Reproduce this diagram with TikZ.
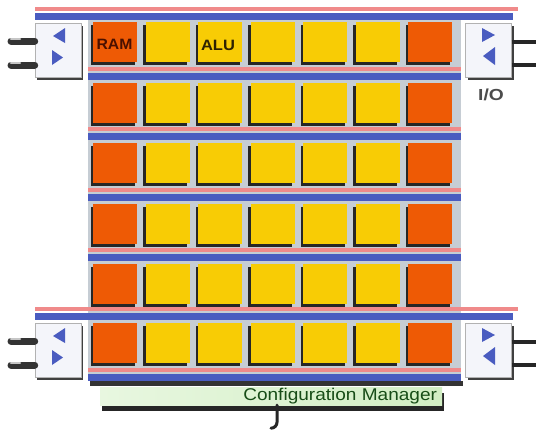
\documentclass[tikz,border=0pt]{standalone}
\usepackage{fontspec}
\setmainfont{Liberation Sans}
\usetikzlibrary{shadows}

\definecolor{busblue}{HTML}{4A5CC0}
\definecolor{buspink}{HTML}{F08A8A}
\definecolor{cellorange}{HTML}{EE5A05}
\definecolor{cellyellow}{HTML}{F8CC05}
\definecolor{gridgray}{HTML}{C6CDD4}
\definecolor{iofill}{HTML}{F4F5FA}
\definecolor{cmleft}{HTML}{E8F7E0}
\definecolor{cmright}{HTML}{D2EEC4}
\definecolor{cmtext}{HTML}{174D17}
\definecolor{ramtext}{HTML}{4A1000}
\definecolor{alutext}{HTML}{2E2200}

\begin{document}
\begin{tikzpicture}[x=1pt,y=-1pt,
  cell/.style={minimum width=44pt, minimum height=40pt, inner sep=0pt,
    drop shadow={shadow xshift=-2.5pt, shadow yshift=-3pt, fill=black!85, opacity=1}},
  iobox/.style={minimum width=46pt, minimum height=54pt, inner sep=0pt,
    fill=iofill, draw=gray!60, line width=0.6pt,
    drop shadow={shadow xshift=2pt, shadow yshift=-3pt, fill=black!75, opacity=1}},
  tri/.style={fill=busblue},
  plugbody/.style={line width=7pt, black!80, line cap=round},
  plughi/.style={line width=2.5pt, gray!45, line cap=round},
  plugthin/.style={line width=3.5pt, black!85},
  cable/.style={line width=3pt, black!85, line cap=round},
  celltext/.style={font=\fontsize{15}{15}\selectfont\bfseries, inner sep=0pt},
  iolabel/.style={font=\fontsize{16}{16}\selectfont\bfseries, text=black!70, inner sep=0pt},
  cmbox/.style={minimum width=342pt, minimum height=18pt, inner sep=0pt,
    left color=cmleft, right color=cmright,
    drop shadow={shadow xshift=2pt, shadow yshift=-6pt, fill=black!85, opacity=1}},
  cmlabel/.style={font=\fontsize{17}{17}\selectfont, text=cmtext, inner sep=0pt}
]
\useasboundingbox (0,0) rectangle (536,437);
\fill[white] (0,0) rectangle (536,437);

% backdrop of the cell array
\fill[gridgray] (88,20) rectangle (461,374);

% buses: pink signal line above a blue bar
\foreach \y/\xa/\xb/\xp in {13/35/513/518, 73/88/461/461, 133/88/461/461,
    194/88/461/461, 254/88/461/461, 313/35/513/518, 374/88/461/461}{
  \fill[buspink] (\xa,\y-6.5) rectangle (\xp,\y-2.5);
  \fill[busblue] (\xa,\y) rectangle (\xb,\y+7);
}
% shadow under the last bus
\fill[black!80] (90,381) rectangle (463,386);

% cell array: RAM columns at both ends, ALUs inside
\foreach \r [count=\ri] in {22,83,143,204,264,323}{
  \foreach \c/\colr in {1/cellorange,2/cellyellow,3/cellyellow,4/cellyellow,
      5/cellyellow,6/cellyellow,7/cellorange}{
    \node[cell, fill=\colr] (c\ri-\c) at ({93+52.5*(\c-1)+22}, \r+20) {};
  }
}
\node[celltext, text=ramtext] (ramtxt) at ([xshift=-0.5pt, yshift=-2pt]c1-1.center)
  {\scalebox{1.05}[1]{RAM}};
\node[celltext, text=alutext] (alutxt) at ([xshift=-2pt, yshift=-3pt]c1-3.center)
  {\scalebox{1.1}[1]{ALU}};

% I/O blocks with their external plugs
\foreach \dy/\nm in {0/top, 300/bot}{
  \node[iobox] (ioL\nm) at (58, 50+\dy) {};
  \node[iobox] (ioR\nm) at (488.5, 50+\dy) {};
  % direction arrows
  \fill[tri] (53,36+\dy) -- (65,28+\dy) -- (65,43+\dy) -- cycle;
  \fill[tri] (52,50+\dy) -- (63,57.5+\dy) -- (52,65+\dy) -- cycle;
  \fill[tri] (482,28+\dy) -- (495,35+\dy) -- (482,42+\dy) -- cycle;
  \fill[tri] (495,47+\dy) -- (483,56+\dy) -- (495,65+\dy) -- cycle;
  % plugs
  \coordinate (pLa\nm) at (11, 41+\dy);
  \coordinate (pLb\nm) at (11, 65+\dy);
  \draw[plugbody] (ioL\nm.west |- pLa\nm) -- (pLa\nm);
  \draw[plugbody] (ioL\nm.west |- pLb\nm) -- (pLb\nm);
  \draw[plughi] ([yshift=2pt]pLa\nm) -- ++(9,0);
  \draw[plughi] ([yshift=2pt]pLb\nm) -- ++(9,0);
  \coordinate (pRa\nm) at (536, 42+\dy);
  \coordinate (pRb\nm) at (536, 65+\dy);
  \draw[plugthin] (ioR\nm.east |- pRa\nm) -- (pRa\nm);
  \draw[plugthin] (ioR\nm.east |- pRb\nm) -- (pRb\nm);
}
\node[iolabel] (iotxt) at (491,95) {\scalebox{1.2}[1]{I/O}};

% configuration manager
\node[cmbox] (cm) at (271,396) {};
\node[cmlabel, anchor=east] (cmtxt) at ([xshift=-5pt]cm.east)
  {\scalebox{1.12}[1]{Configuration Manager}};
\draw[cable] ([xshift=6pt]cm.south) -- ++(0,17) to[out=-90,in=0] ++(-6,6);
\end{tikzpicture}
\end{document}
